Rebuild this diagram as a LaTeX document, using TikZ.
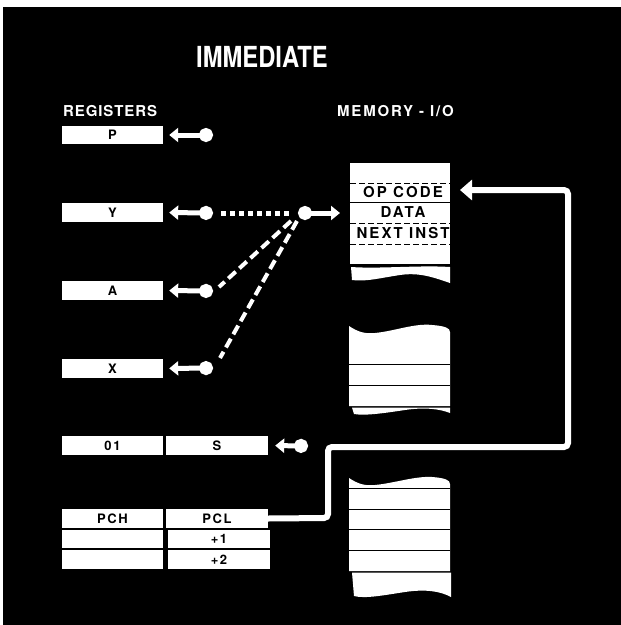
\documentclass[tikz,border=0pt]{standalone}
\usepackage{fontspec}
\usepackage{graphicx}
\setmainfont{TeX Gyre Heros}
\usetikzlibrary{arrows.meta}
\begin{document}
\begin{tikzpicture}[x=1pt,y=-1pt,
  reg/.style={fill=white, text=black, minimum width=101pt, minimum height=18.5pt, inner sep=0pt,
    font=\fontsize{13}{13}\selectfont\bfseries\addfontfeatures{LetterSpace=12}},
  regw/.style={reg, minimum width=102pt},
  head/.style={text=white, inner sep=0pt, anchor=base west,
    font=\fontsize{15}{15}\selectfont\bfseries\addfontfeatures{LetterSpace=#1}},
  memtxt/.style={text=black, inner sep=0pt,
    font=\fontsize{15}{15}\selectfont\bfseries\addfontfeatures{LetterSpace=14}},
  bus/.style={draw=white, line width=5pt, {Triangle[width=14pt,length=9pt]}-{Circle[length=14pt]}},
  pcline/.style={draw=white, line width=6pt, rounded corners=4pt, -{Triangle[width=20pt,length=12pt]}},
  dotline/.style={draw=white, line width=5pt, dash pattern=on 5pt off 4pt},
  dashline/.style={draw=white, line width=4pt, dash pattern=on 10pt off 5pt},
  memfill/.style={fill=white},
  sep/.style={draw=black, line width=0.8pt},
  dsep/.style={draw=black, line width=0.8pt, dash pattern=on 6pt off 3pt}
]
\useasboundingbox (0,0) rectangle (621,625);
\fill[white] (0,0) rectangle (621,625);
\fill[black] (3,7) rectangle (621,625);

% title and headings
\node[text=white, inner sep=0pt] (title) at (262,57)
  {\scalebox{0.82}[1]{\fontsize{29}{29}\selectfont\bfseries IMMEDIATE}};
\node[head=6] (regs) at (63,116) {REGISTERS};
\node[head=12] (memh) at (337,116) {MEMORY - I/O};

% registers
\node[reg] (p) at (112.5,135) {P};
\node[reg] (y) at (112.5,212.5) {Y};
\node[reg] (a) at (112.5,290.5) {A};
\node[reg] (x) at (112.5,368.5) {X};
\node[reg] (o1) at (112.5,445.5) {01};
\node[regw] (s) at (217,445.5) {S};
\node[reg] (pch) at (112.5,518.5) {PCH};
\node[regw] (pcl) at (217,518.5) {PCL};
\node[reg, minimum height=18pt] (r2a) at (112.5,539) {};
\node[regw, minimum height=18pt] (r2b) at (219,539) {+1};
\node[reg, minimum height=19pt] (r3a) at (112.5,559.5) {};
\node[regw, minimum height=19pt] (r3b) at (219,559.5) {+2};

% connection points
\coordinate (cp) at (213,135);
\coordinate (cy) at (213,213);
\coordinate (ca) at (213,291);
\coordinate (cx) at (213,368);
\coordinate (cs) at (308,446);
\coordinate (jn) at (298,213);
\coordinate (ja) at (291,221);
\coordinate (jx) at (297,221);
\coordinate (ea) at (219,287);
\coordinate (ex) at (220,358);
\coordinate (memin) at (350,213);
\coordinate (opc) at (450,190);

% memory: top block
\fill[memfill] (350,163) rectangle (450,264);
\draw[dsep] (350,183) -- (450,183);
\draw[sep] (350,202) -- (450,202);
\draw[dsep] (350,223) -- (450,223);
\draw[dsep] (350,244) -- (450,244);
\fill[memfill] (351,267) .. controls (380,269) and (420,265) .. (450,267) -- (450,283)
  .. controls (435,278) and (420,272) .. (400,275) .. controls (380,278) and (365,282) .. (352,280) -- cycle;
\node[memtxt] (opcode) at (403,192.5) {OP CODE};
\node[memtxt] (data) at (403,212.5) {DATA};
\node[memtxt] (next) at (403,233.5) {NEXT INST};

% memory: middle block
\fill[memfill] (349,326) .. controls (358,332) and (365,334) .. (375,333)
  .. controls (395,331) and (415,323) .. (432,325) .. controls (445,326) and (450,328) .. (450,332)
  -- (450,406) -- (349,406) -- cycle;
\draw[sep] (349,364) -- (450,364);
\draw[sep] (349,385) -- (450,385);
\fill[memfill] (352,407.5) -- (450,407.5) -- (450,413) .. controls (440,409) and (425,407) .. (405,410)
  .. controls (385,413) and (365,416) .. (354,414) -- cycle;

% memory: bottom block
\fill[memfill] (349,478) .. controls (358,484) and (365,486) .. (375,485)
  .. controls (395,483) and (415,476) .. (432,477) .. controls (445,478) and (450,480) .. (450,484)
  -- (450,571) -- (349,571) -- cycle;
\draw[sep] (349,488) -- (450,488);
\draw[sep] (349,509) -- (450,509);
\draw[sep] (349,529) -- (450,529);
\draw[sep] (349,550) -- (450,550);
\fill[memfill] (352,572.5) -- (451,572.5) -- (451,597) .. controls (440,591) and (425,589) .. (405,592)
  .. controls (385,595) and (365,599) .. (354,596) -- cycle;

% connectors
\draw[bus, shorten <=6pt] (p.east) -- (cp);
\draw[bus, shorten <=6pt] (y.east) -- (cy);
\draw[bus, shorten <=6pt] (a.east) -- (ca);
\draw[bus, shorten <=6pt] (x.east) -- (cx);
\draw[bus, shorten <=7pt] (s.east) -- (cs);
\draw[dotline, shorten <=8pt, shorten >=7pt] (cy) -- (jn);
\draw[draw=white, line width=5pt, {Circle[length=14pt]}-{Triangle[width=14pt,length=9pt]}, shorten >=10pt] (jn) -- (memin);
\draw[dashline] (ja) -- (ea);
\draw[dashline] (jx) -- (ex);
\draw[pcline, shorten >=10pt] (pcl.east) -- (328,518) -- (328,447) -- (568,447) -- (568,190) -- (opc);
\end{tikzpicture}
\end{document}
